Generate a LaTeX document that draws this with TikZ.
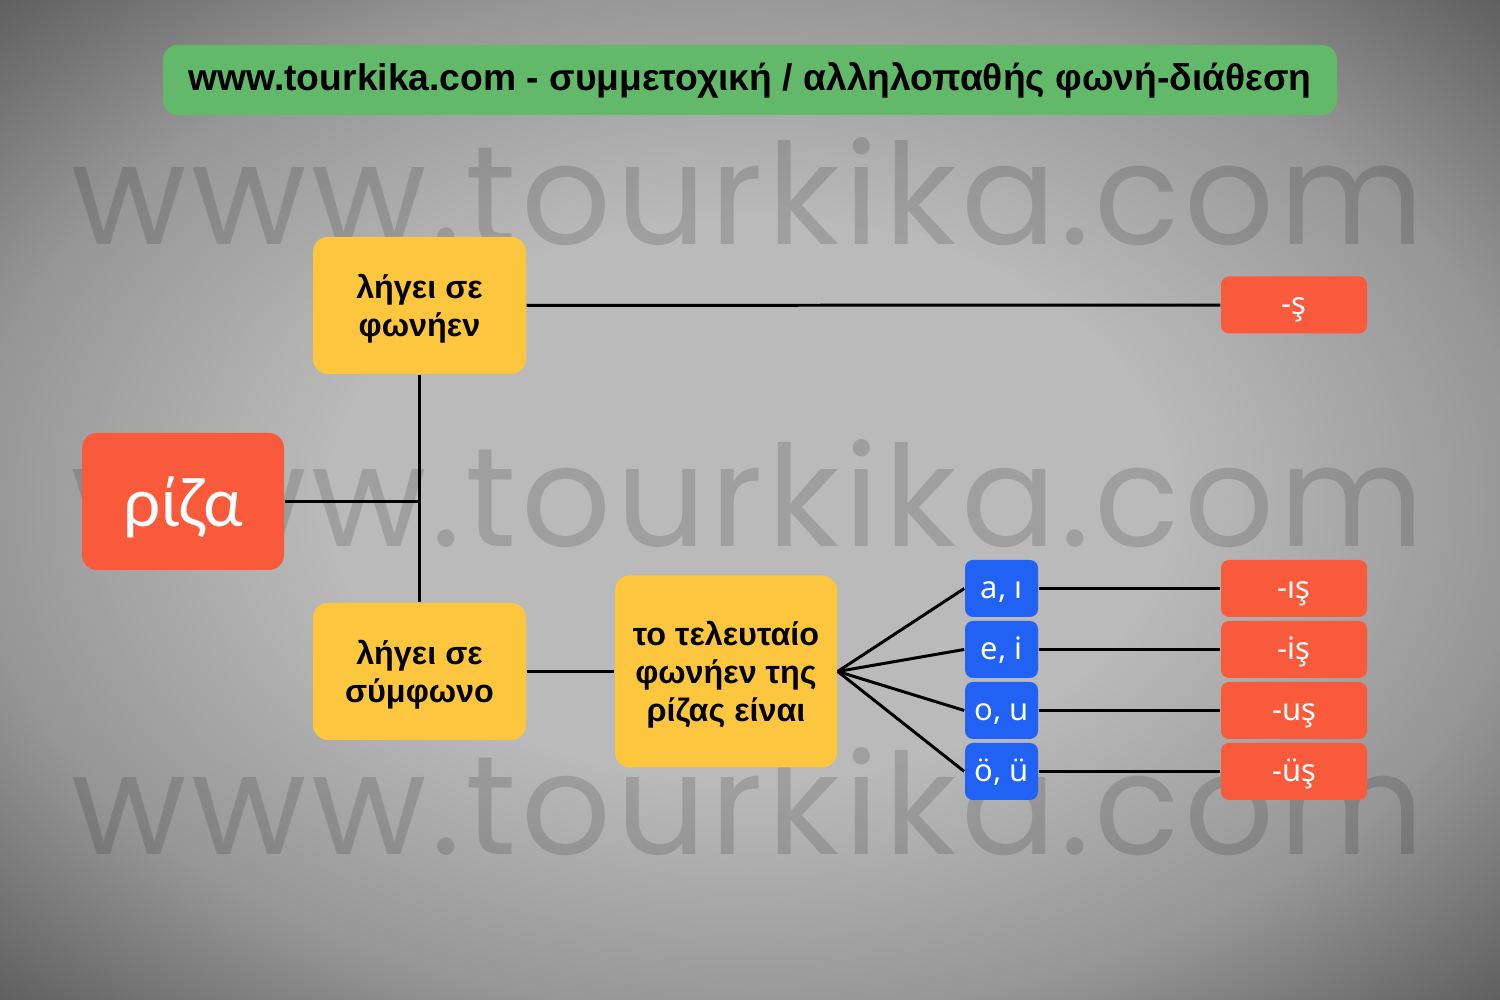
\documentclass[tikz,border=0pt]{standalone}
\usepackage{fontspec}
\setmainfont{Noto Sans}
\newfontfamily\headfont{Liberation Sans}
\newfontfamily\markfont{Poppins}[LetterSpace=3.3]
\newfontfamily\rootfont{Lato}
\usetikzlibrary{positioning}

\definecolor{bgl}{RGB}{186,186,186}
\definecolor{bgm}{RGB}{150,150,150}
\definecolor{bgd}{RGB}{92,92,92}
\definecolor{tkgreen}{HTML}{62B96A}
\definecolor{tkyellow}{HTML}{FCC73F}
\definecolor{tkred}{HTML}{FA5A3C}
\definecolor{tkblue}{HTML}{2161F4}

\pgfdeclareradialshading{paper}{\pgfpoint{0bp}{0bp}}{color(0bp)=(bgl); color(14bp)=(bgl); color(26bp)=(bgm); color(36bp)=(bgd); color(50bp)=(bgd)}

\tikzset{
  wmark/.style={anchor=base, text=black, text opacity=0.14,
    font=\markfont\fontsize{40}{40}\selectfont},
  cond/.style={rectangle, rounded corners=1.5mm, fill=tkyellow,
    minimum width=21.3mm, minimum height=13.7mm, inner sep=0pt,
    text depth=0pt, align=center,
    font=\headfont\bfseries\fontsize{9.2}{10.9}\selectfont},
  vowel/.style={rectangle, rounded corners=0.8mm, fill=tkblue, text=white,
    minimum width=7.3mm, minimum height=5.7mm, inner sep=0pt,
    text height=6.6pt, text depth=1pt,
    font=\fontsize{8.8}{10}\selectfont},
  suffix/.style={rectangle, rounded corners=0.8mm, fill=tkred, text=white,
    minimum width=14.6mm, minimum height=5.7mm, inner sep=0pt,
    text height=6.6pt, text depth=1pt,
    font=\fontsize{8.8}{10}\selectfont},
  link/.style={line width=0.85pt, black}
}

\begin{document}
\begin{tikzpicture}[node distance=6.1mm]
  \useasboundingbox (0,0) rectangle (15,10);
  \shade[shading=paper] (0,0) rectangle (15,10);

  \node[wmark] (m1) at (7.48,7.55) {www.tourkika.com};
  \node[wmark] (m2) at (7.48,4.53) {www.tourkika.com};
  \node[wmark] (m3) at (7.48,1.45) {www.tourkika.com};

  \node[
  rectangle,
  rounded corners=1.5mm,
  fill=tkgreen,
  minimum width=117.4mm,
  minimum height=7mm,
  inner sep=0pt,
  font=\headfont\bfseries\fontsize{10.6}{13}\selectfont
  ] (title) at (7.5,9.2) {www.tourkika.com - συμμετοχική / αλληλοπαθής φωνή-διάθεση};

  \node[
  rectangle,
  rounded corners=1.5mm,
  fill=tkred,
  text=white,
  minimum width=20.2mm,
  minimum height=13.7mm,
  inner sep=0pt,
  text height=14.5pt,
  text depth=0.5pt,
  font=\rootfont\fontsize{19}{21}\selectfont
  ] (riza) at (1.83,4.985) {ρίζα};

  \node[cond] (vow) at (4.195,6.945) {λήγει σε\\φωνήεν};
  \node[cond, below of=vow, yshift=-30.5mm] (cons) {λήγει σε\\σύμφωνο};
  \node[cond, right of=cons, xshift=24.55mm,
  minimum width=22.2mm, minimum height=19.2mm] (last) {το τελευταίο\\φωνήεν της\\ρίζας είναι};

  \node[suffix] (s0) at (12.94,6.95) {-ş};

  \node[vowel] (b1) at (10.015,4.115) {a, ı};
  \node[vowel, below of=b1] (b2) {e, i};
  \node[vowel, below of=b2] (b3) {o, u};
  \node[vowel, below of=b3] (b4) {ö, ü};

  \node[suffix, right of=b1, xshift=23.15mm] (s1) {-ış};
  \node[suffix, right of=b2, xshift=23.15mm] (s2) {-iş};
  \node[suffix, right of=b3, xshift=23.15mm] (s3) {-uş};
  \node[suffix, right of=b4, xshift=23.15mm] (s4) {-üş};

  \coordinate (j) at (riza.east -| vow.south);

  \draw[link] (vow) -- (cons);
  \draw[link] (riza) -- (j);
  \draw[link] (vow) -- (s0);
  \draw[link] (cons) -- (last);
  \draw[link] (last.east) -- (b1.west);
  \draw[link] (last.east) -- (b2.west);
  \draw[link] (last.east) -- (b3.west);
  \draw[link] (last.east) -- (b4.west);
  \draw[link] (b1) -- (s1);
  \draw[link] (b2) -- (s2);
  \draw[link] (b3) -- (s3);
  \draw[link] (b4) -- (s4);
\end{tikzpicture}
\end{document}
